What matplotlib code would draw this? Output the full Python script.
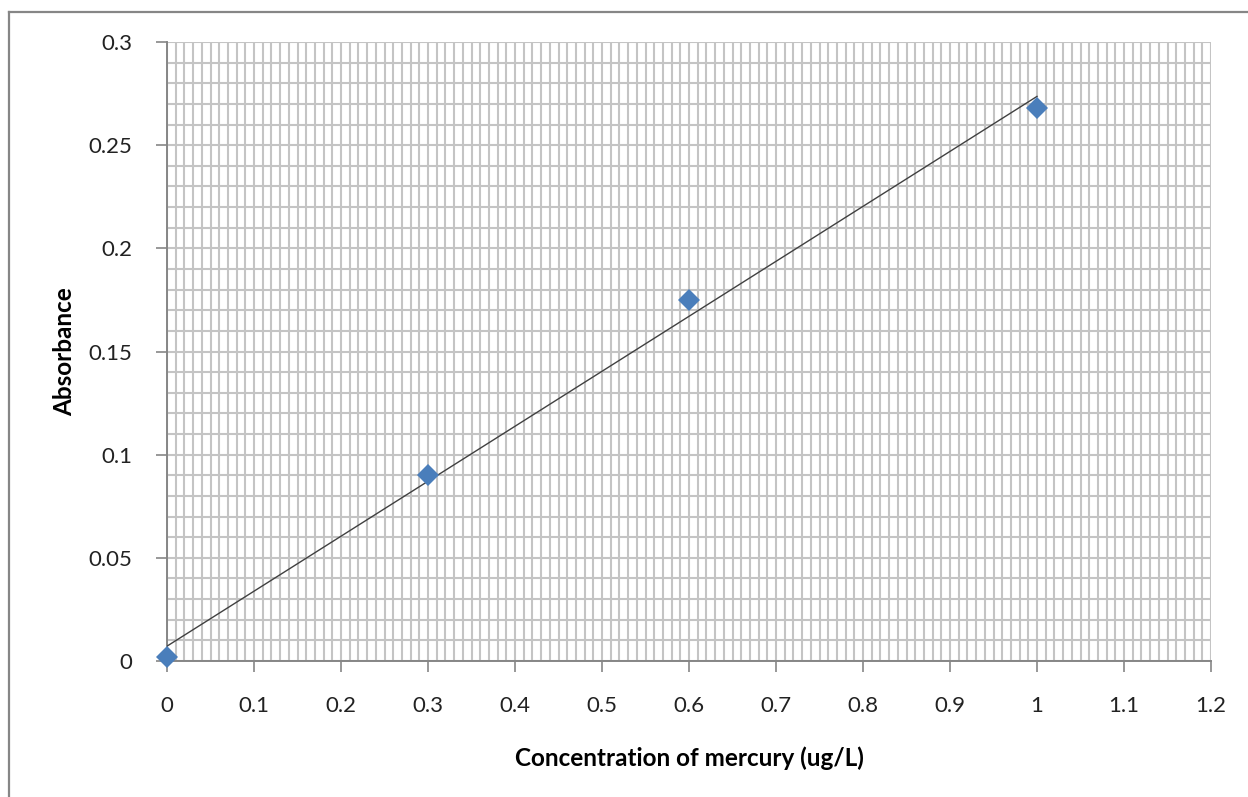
import numpy as np
import matplotlib
matplotlib.use("Agg")
import matplotlib.pyplot as plt

# calibration data
conc = [0.0, 0.3, 0.6, 1.0]
absorbance = [0.002, 0.090, 0.175, 0.268]

x_ticks = [0, 0.1, 0.2, 0.3, 0.4, 0.5, 0.6, 0.7, 0.8, 0.9, 1, 1.1, 1.2]
x_tick_labels = ["0", "0.1", "0.2", "0.3", "0.4", "0.5", "0.6", "0.7", "0.8", "0.9", "1", "1.1", "1.2"]
y_ticks = [0, 0.05, 0.1, 0.15, 0.2, 0.25, 0.3]
y_tick_labels = ["0", "0.05", "0.1", "0.15", "0.2", "0.25", "0.3"]

plt.rcParams['font.family'] = ['Lato', 'DejaVu Sans']

fig = plt.figure(figsize=(12.48, 7.97), dpi=100)
ax = fig.add_axes([167 / 1248, 1 - 661 / 797, (1211 - 167) / 1248, (661 - 42) / 797])

# fine grid every 0.01 on both axes
ax.set_xlim(0, 1.2)
ax.set_ylim(0, 0.3)
ax.set_xticks(np.arange(0, 1.2001, 0.01), minor=True)
ax.set_yticks(np.arange(0, 0.3001, 0.01), minor=True)
ax.grid(True, which='both', color='#c4c4c4', linewidth=1.5)
ax.tick_params(which='minor', length=0)
ax.set_axisbelow(True)

ax.set_xticks(x_ticks)
ax.set_xticklabels(x_tick_labels)
ax.set_yticks(y_ticks)
ax.set_yticklabels(y_tick_labels)
ax.tick_params(axis='x', which='major', length=8, width=1.2, color='#868686',
               pad=17, labelsize=16, labelcolor='#222222')
ax.tick_params(axis='y', which='major', length=8, width=1.2, color='#868686',
               pad=17, labelsize=16, labelcolor='#222222')

for side in ('top', 'right'):
    ax.spines[side].set_visible(False)
for side in ('left', 'bottom'):
    ax.spines[side].set_color('#868686')
    ax.spines[side].set_linewidth(1.4)

# linear trend line through the points
slope, intercept = np.polyfit(conc, absorbance, 1)
fit_x = np.array([min(conc), max(conc)])
ax.plot(fit_x, slope * fit_x + intercept, color='#404040', linewidth=1.0, zorder=3)

ax.plot(conc, absorbance, linestyle='none', marker='D', markersize=11.5,
        color='#4a7ebb', markeredgewidth=0, clip_on=False, zorder=4)

ax.set_xlabel('Concentration of mercury (ug/L)', fontsize=17.5, fontweight='bold', labelpad=22)
ax.set_ylabel('Absorbance', fontsize=17.5, fontweight='bold', labelpad=9)

# outer chart border (only top and left visible in the crop)
fig.add_artist(plt.Line2D([9 / 1248, 9 / 1248], [0, 1 - 12 / 797], transform=fig.transFigure,
                          color='#868686', linewidth=1.6))
fig.add_artist(plt.Line2D([9 / 1248, 1], [1 - 12 / 797, 1 - 12 / 797], transform=fig.transFigure,
                          color='#868686', linewidth=1.6))

fig.savefig('out.png', dpi=100, facecolor='white')
